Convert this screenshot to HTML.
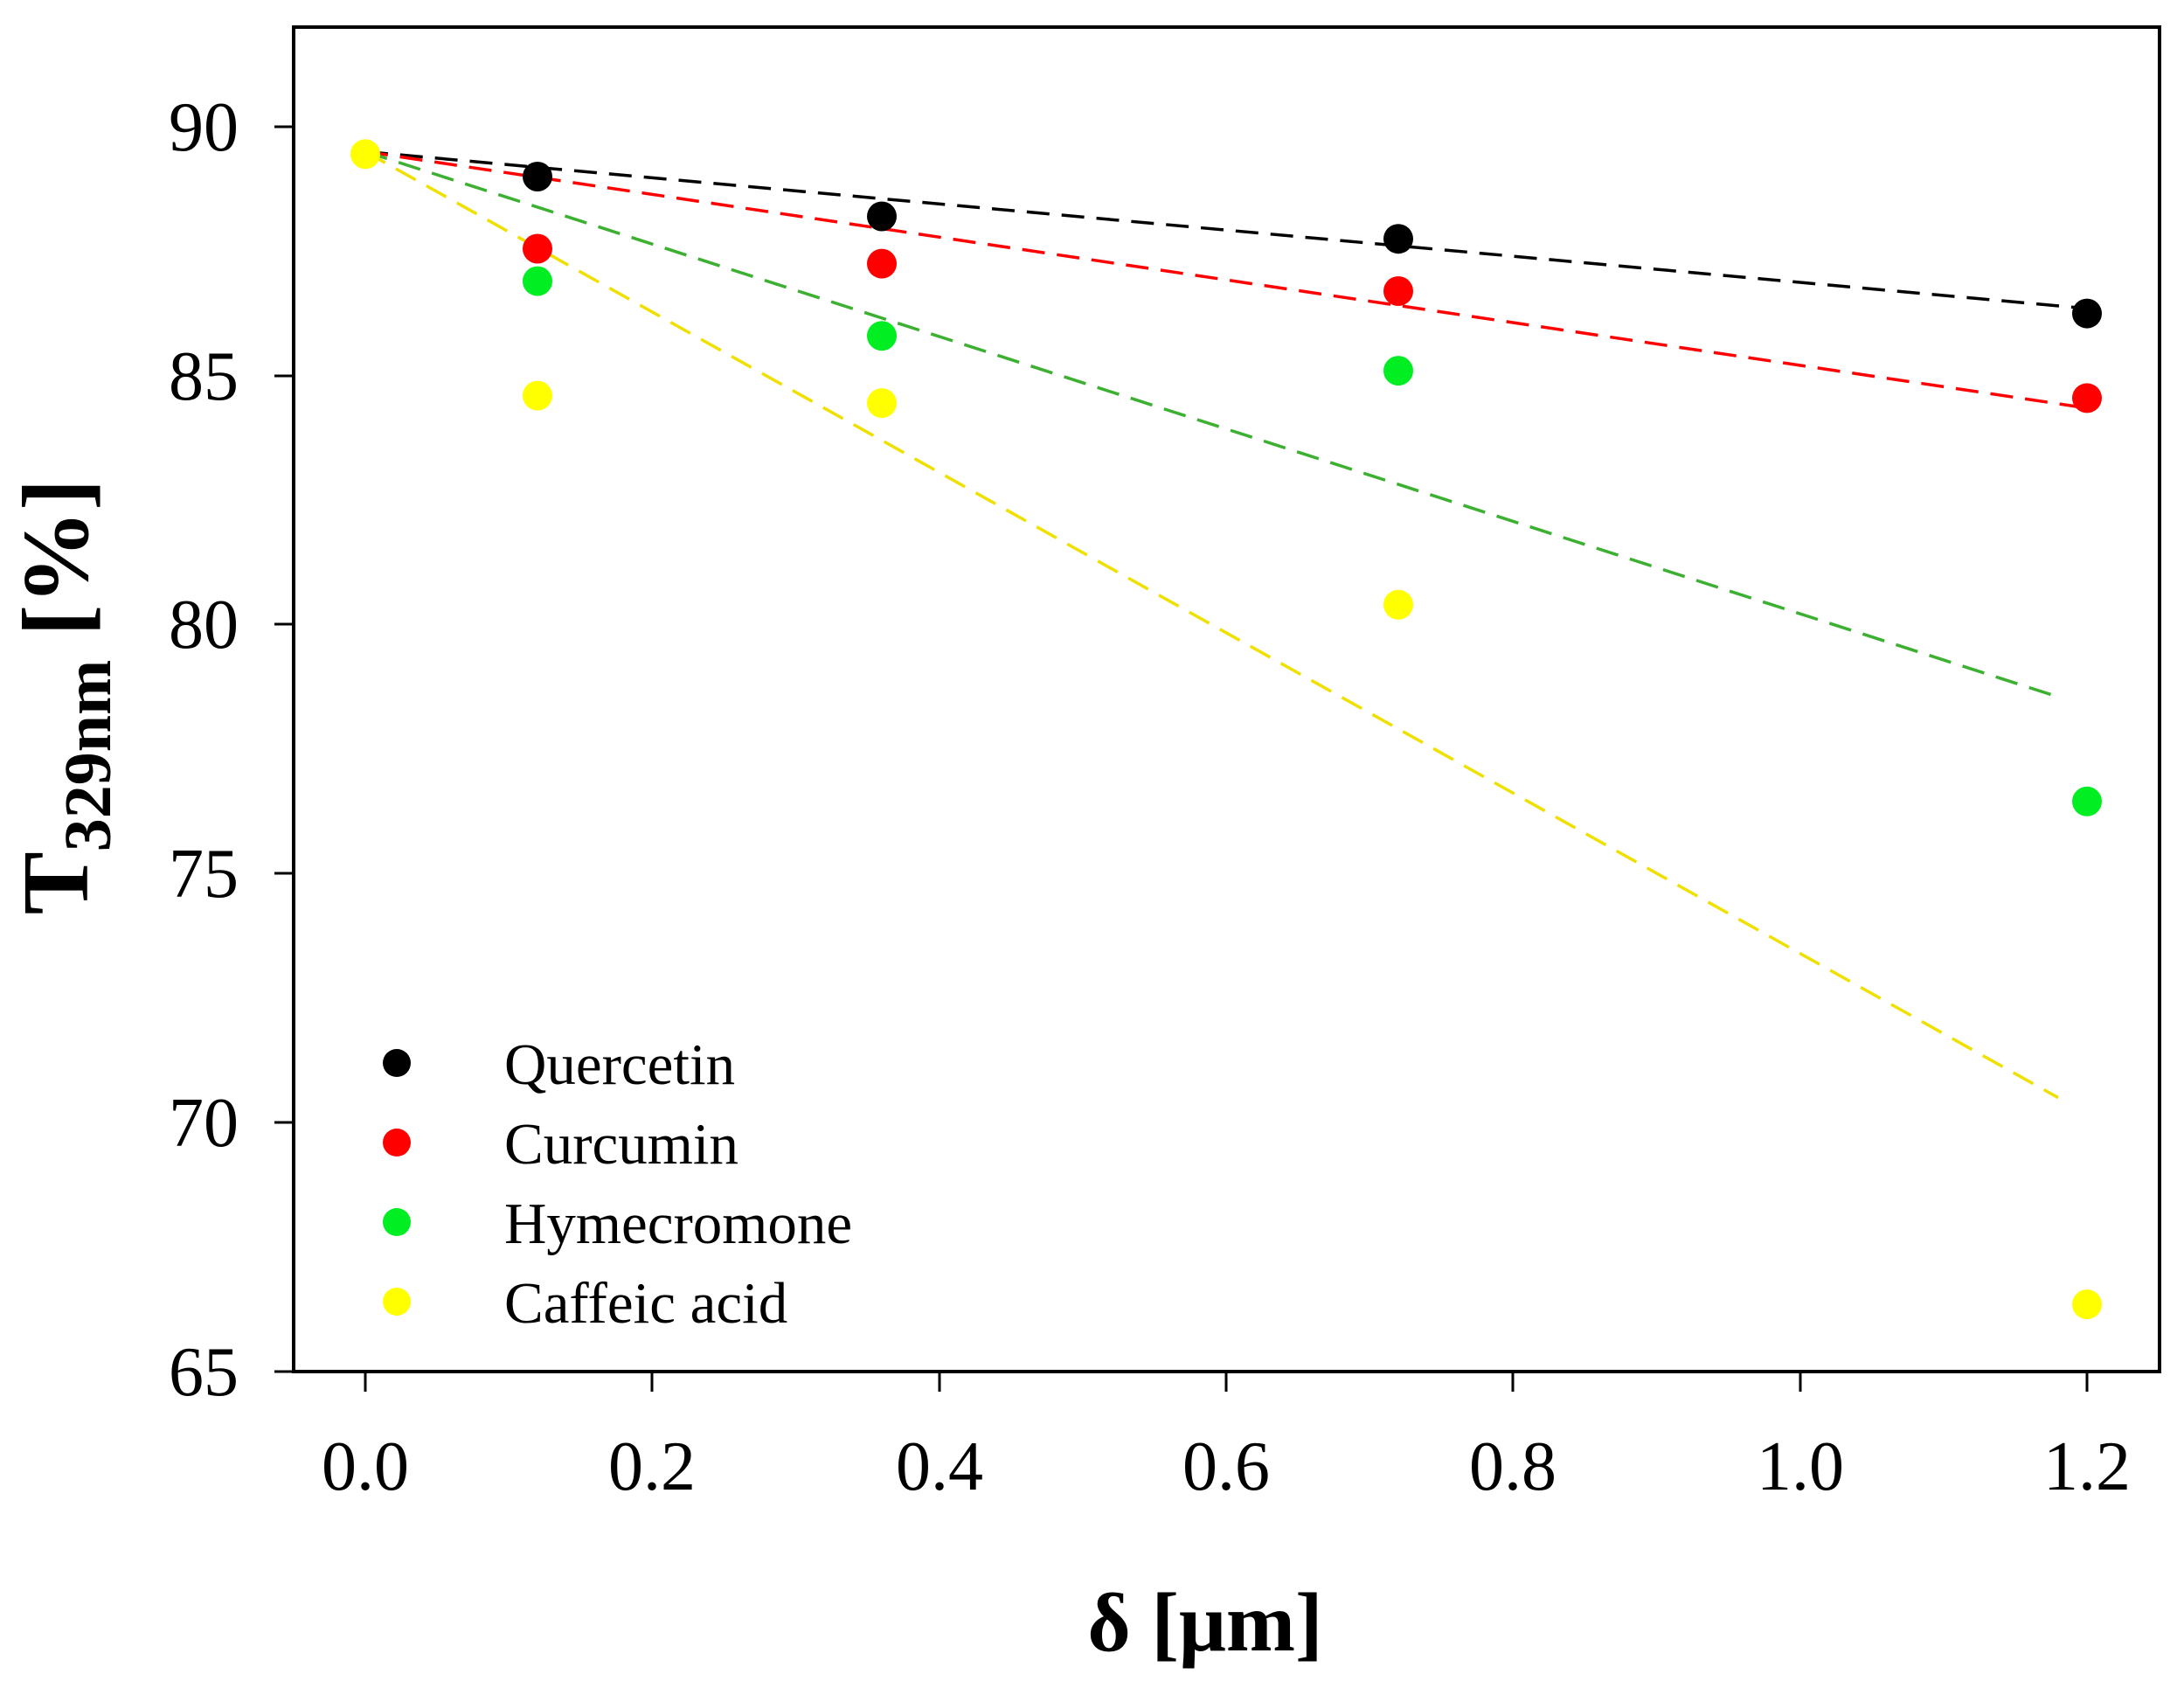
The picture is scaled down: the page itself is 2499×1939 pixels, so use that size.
<!DOCTYPE html>
<html><head><meta charset="utf-8"><style>body{margin:0;background:#fff}svg{display:block}</style></head>
<body>
<svg width="2499" height="1939" viewBox="0 0 2499 1939" xmlns="http://www.w3.org/2000/svg" font-family="Liberation Serif, serif">
<rect x="0" y="0" width="2499" height="1939" fill="#fff"/>
<g stroke-width="3.5" fill="none" stroke-dasharray="26,14">
<line x1="418" y1="173.5" x2="2388" y2="352.9" stroke="#000"/>
<line x1="418" y1="173.5" x2="2388" y2="466.8" stroke="#ff0000"/>
<line x1="418" y1="173.5" x2="2355" y2="797.2" stroke="#3cb030"/>
<line x1="418" y1="173.5" x2="2355" y2="1255.7" stroke="#f0e000"/>
</g>
<g>
<circle cx="615" cy="202" r="17" fill="#000"/><circle cx="1009" cy="247.5" r="17" fill="#000"/><circle cx="1600" cy="273.2" r="17" fill="#000"/><circle cx="2388" cy="358.6" r="17" fill="#000"/>
<circle cx="615" cy="284.5" r="17" fill="#ff0000"/><circle cx="1009" cy="301.6" r="17" fill="#ff0000"/><circle cx="1600" cy="333" r="17" fill="#ff0000"/><circle cx="2388" cy="455.4" r="17" fill="#ff0000"/>
<circle cx="615" cy="321.6" r="17" fill="#00ee22"/><circle cx="1009" cy="384.2" r="17" fill="#00ee22"/><circle cx="1600" cy="424.1" r="17" fill="#00ee22"/><circle cx="2388" cy="916.8" r="17" fill="#00ee22"/>
<circle cx="615" cy="452.6" r="17" fill="#ffff00"/><circle cx="1009" cy="461.1" r="17" fill="#ffff00"/><circle cx="1600" cy="691.8" r="17" fill="#ffff00"/><circle cx="2388" cy="1492.1" r="17" fill="#ffff00"/>
<circle cx="418" cy="176.3" r="17" fill="#ffff00"/>
</g>
<rect x="336" y="31" width="2135" height="1538" fill="none" stroke="#000" stroke-width="4"/>
<g stroke="#000" stroke-width="3">
<line x1="314" y1="145" x2="336" y2="145"/><line x1="314" y1="430" x2="336" y2="430"/><line x1="314" y1="714" x2="336" y2="714"/><line x1="314" y1="999" x2="336" y2="999"/><line x1="314" y1="1284" x2="336" y2="1284"/><line x1="314" y1="1569" x2="336" y2="1569"/>
<line x1="418" y1="1569" x2="418" y2="1592"/><line x1="746" y1="1569" x2="746" y2="1592"/><line x1="1075" y1="1569" x2="1075" y2="1592"/><line x1="1403" y1="1569" x2="1403" y2="1592"/><line x1="1731" y1="1569" x2="1731" y2="1592"/><line x1="2060" y1="1569" x2="2060" y2="1592"/><line x1="2388" y1="1569" x2="2388" y2="1592"/>
</g>
<g font-size="80" text-anchor="end">
<text x="273" y="172">90</text><text x="273" y="457">85</text><text x="273" y="741">80</text><text x="273" y="1026">75</text><text x="273" y="1311">70</text><text x="273" y="1596">65</text>
</g>
<g font-size="80" text-anchor="middle">
<text x="418" y="1704">0.0</text><text x="746" y="1704">0.2</text><text x="1075" y="1704">0.4</text><text x="1403" y="1704">0.6</text><text x="1731" y="1704">0.8</text><text x="2060" y="1704">1.0</text><text x="2388" y="1704">1.2</text>
</g>
<text x="1379" y="1888" font-size="95" font-weight="bold" text-anchor="middle">δ [μm]</text>
<text transform="translate(100,797) rotate(-90)" font-size="108" font-weight="bold" text-anchor="middle">T<tspan font-size="76" dy="26">329nm</tspan><tspan dy="-26"> [%]</tspan></text>
<circle cx="454" cy="1216" r="16" fill="#000"/><circle cx="454" cy="1307" r="16" fill="#ff0000"/><circle cx="454" cy="1398" r="16" fill="#00ee22"/><circle cx="454" cy="1489" r="16" fill="#ffff00"/>
<g font-size="67">
<text x="577" y="1240">Quercetin</text><text x="577" y="1331">Curcumin</text><text x="577" y="1422">Hymecromone</text><text x="577" y="1513">Caffeic acid</text>
</g>
</svg>
</body></html>
